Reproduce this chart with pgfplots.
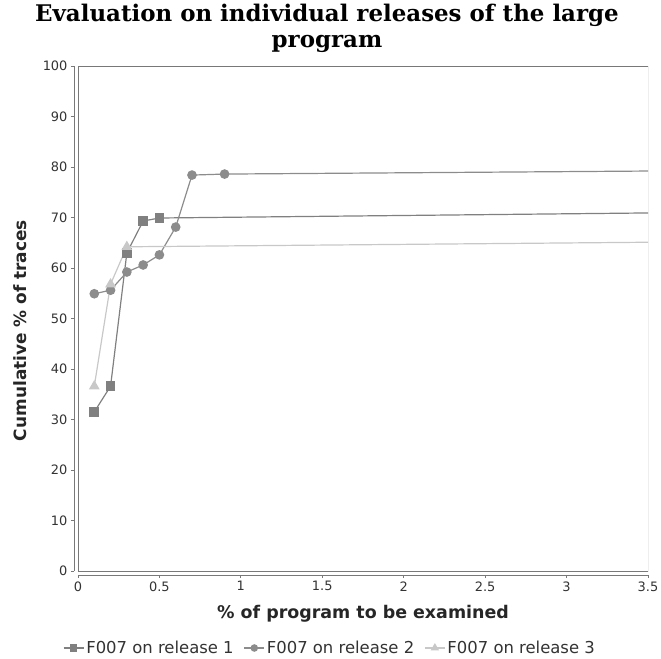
\documentclass[border=0pt]{standalone}
\usepackage{pgfplots}
\pgfplotsset{compat=1.18}
\usepackage{fontspec}
\setmainfont{DejaVu Sans}
\newfontfamily\titlefont{DejaVu Serif}
\definecolor{sone}{RGB}{128,128,128}
\definecolor{stwo}{RGB}{140,140,140}
\definecolor{sthree}{RGB}{200,200,200}
\definecolor{axgray}{RGB}{120,120,120}
\begin{document}
\begin{tikzpicture}[x=1bp,y=1bp]
\useasboundingbox (-78bp,-88bp) rectangle (583bp,571bp);
\begin{axis}[
  scale only axis,
  width=570bp, height=505bp,
  xmin=0, xmax=3.5, ymin=0, ymax=100,
  axis lines=left,
  axis line style={-, axgray, line width=0.8bp},
  axis x line shift=4bp,
  axis y line shift=4bp,
  xtick={0,0.5,1,1.5,2,2.5,3,3.5},
  xticklabels={0,0.5,1,1.5,2,2.5,3,3.5},
  ytick={0,10,...,100},
  tick align=outside,
  major tick length=3bp,
  tick style={axgray, line width=0.8bp},
  /pgf/number format/assume math mode=true,
  ticklabel style={font=\fontsize{13}{14}\selectfont, text=black!80},
  xlabel={\% of program to be examined},
  ylabel={Cumulative \% of traces},
  xlabel style={font=\fontsize{17.5}{18}\selectfont\bfseries, text=black!85, yshift=-7bp},
  ylabel style={font=\fontsize{17}{18}\selectfont\bfseries, text=black!85, yshift=9bp, xshift=-12bp},
  title={Evaluation on individual releases of the large\\program},
  title style={font=\titlefont\fontsize{23}{26}\selectfont\bfseries, align=center, yshift=4bp, xshift=-36bp},
  legend style={at={(0.5,-0.1525)}, anchor=center, xshift=-33bp, draw=none, legend columns=3,
    font=\fontsize{16.5}{18}\selectfont, text=black!80,
    /tikz/every odd column/.append style={column sep=0bp},
    /tikz/every even column/.append style={column sep=8bp},
    inner xsep=0bp},
  legend image code/.code={
    \draw[#1, mark=none] (0bp,0bp) -- (20bp,0bp);
    \draw[#1, mark indices={1}, mark options={scale=0.75}] plot coordinates {(10bp,0bp)};
  },
  clip=true,
]
\draw[axgray, line width=0.8bp] (rel axis cs:0,0) rectangle (rel axis cs:1,1);
\addplot[sone, line width=1.2bp, mark=square*, mark size=4.2bp, mark options={fill=sone, draw=sone}, mark indices={1,2,3,4,5}]
  coordinates {(0.1,31.5) (0.2,36.6) (0.3,63.0) (0.4,69.3) (0.5,69.9) (3.5,70.9)};
\addlegendentry{F007 on release 1}
\addplot[stwo, line width=1.2bp, mark=*, mark size=4.2bp, mark options={fill=stwo, draw=stwo}, mark indices={1,2,3,4,5,6,7,8}]
  coordinates {(0.1,54.9) (0.2,55.6) (0.3,59.2) (0.4,60.6) (0.5,62.6) (0.6,68.1) (0.7,78.4) (0.9,78.6) (3.5,79.2)};
\addlegendentry{F007 on release 2}
\addplot[sthree, line width=1.2bp, mark=triangle*, mark size=5bp, mark options={fill=sthree, draw=sthree}, mark indices={1,2,3}]
  coordinates {(0.1,36.6) (0.2,56.8) (0.3,64.2) (3.5,65.1)};
\addlegendentry{F007 on release 3}
\end{axis}
\end{tikzpicture}
\end{document}
